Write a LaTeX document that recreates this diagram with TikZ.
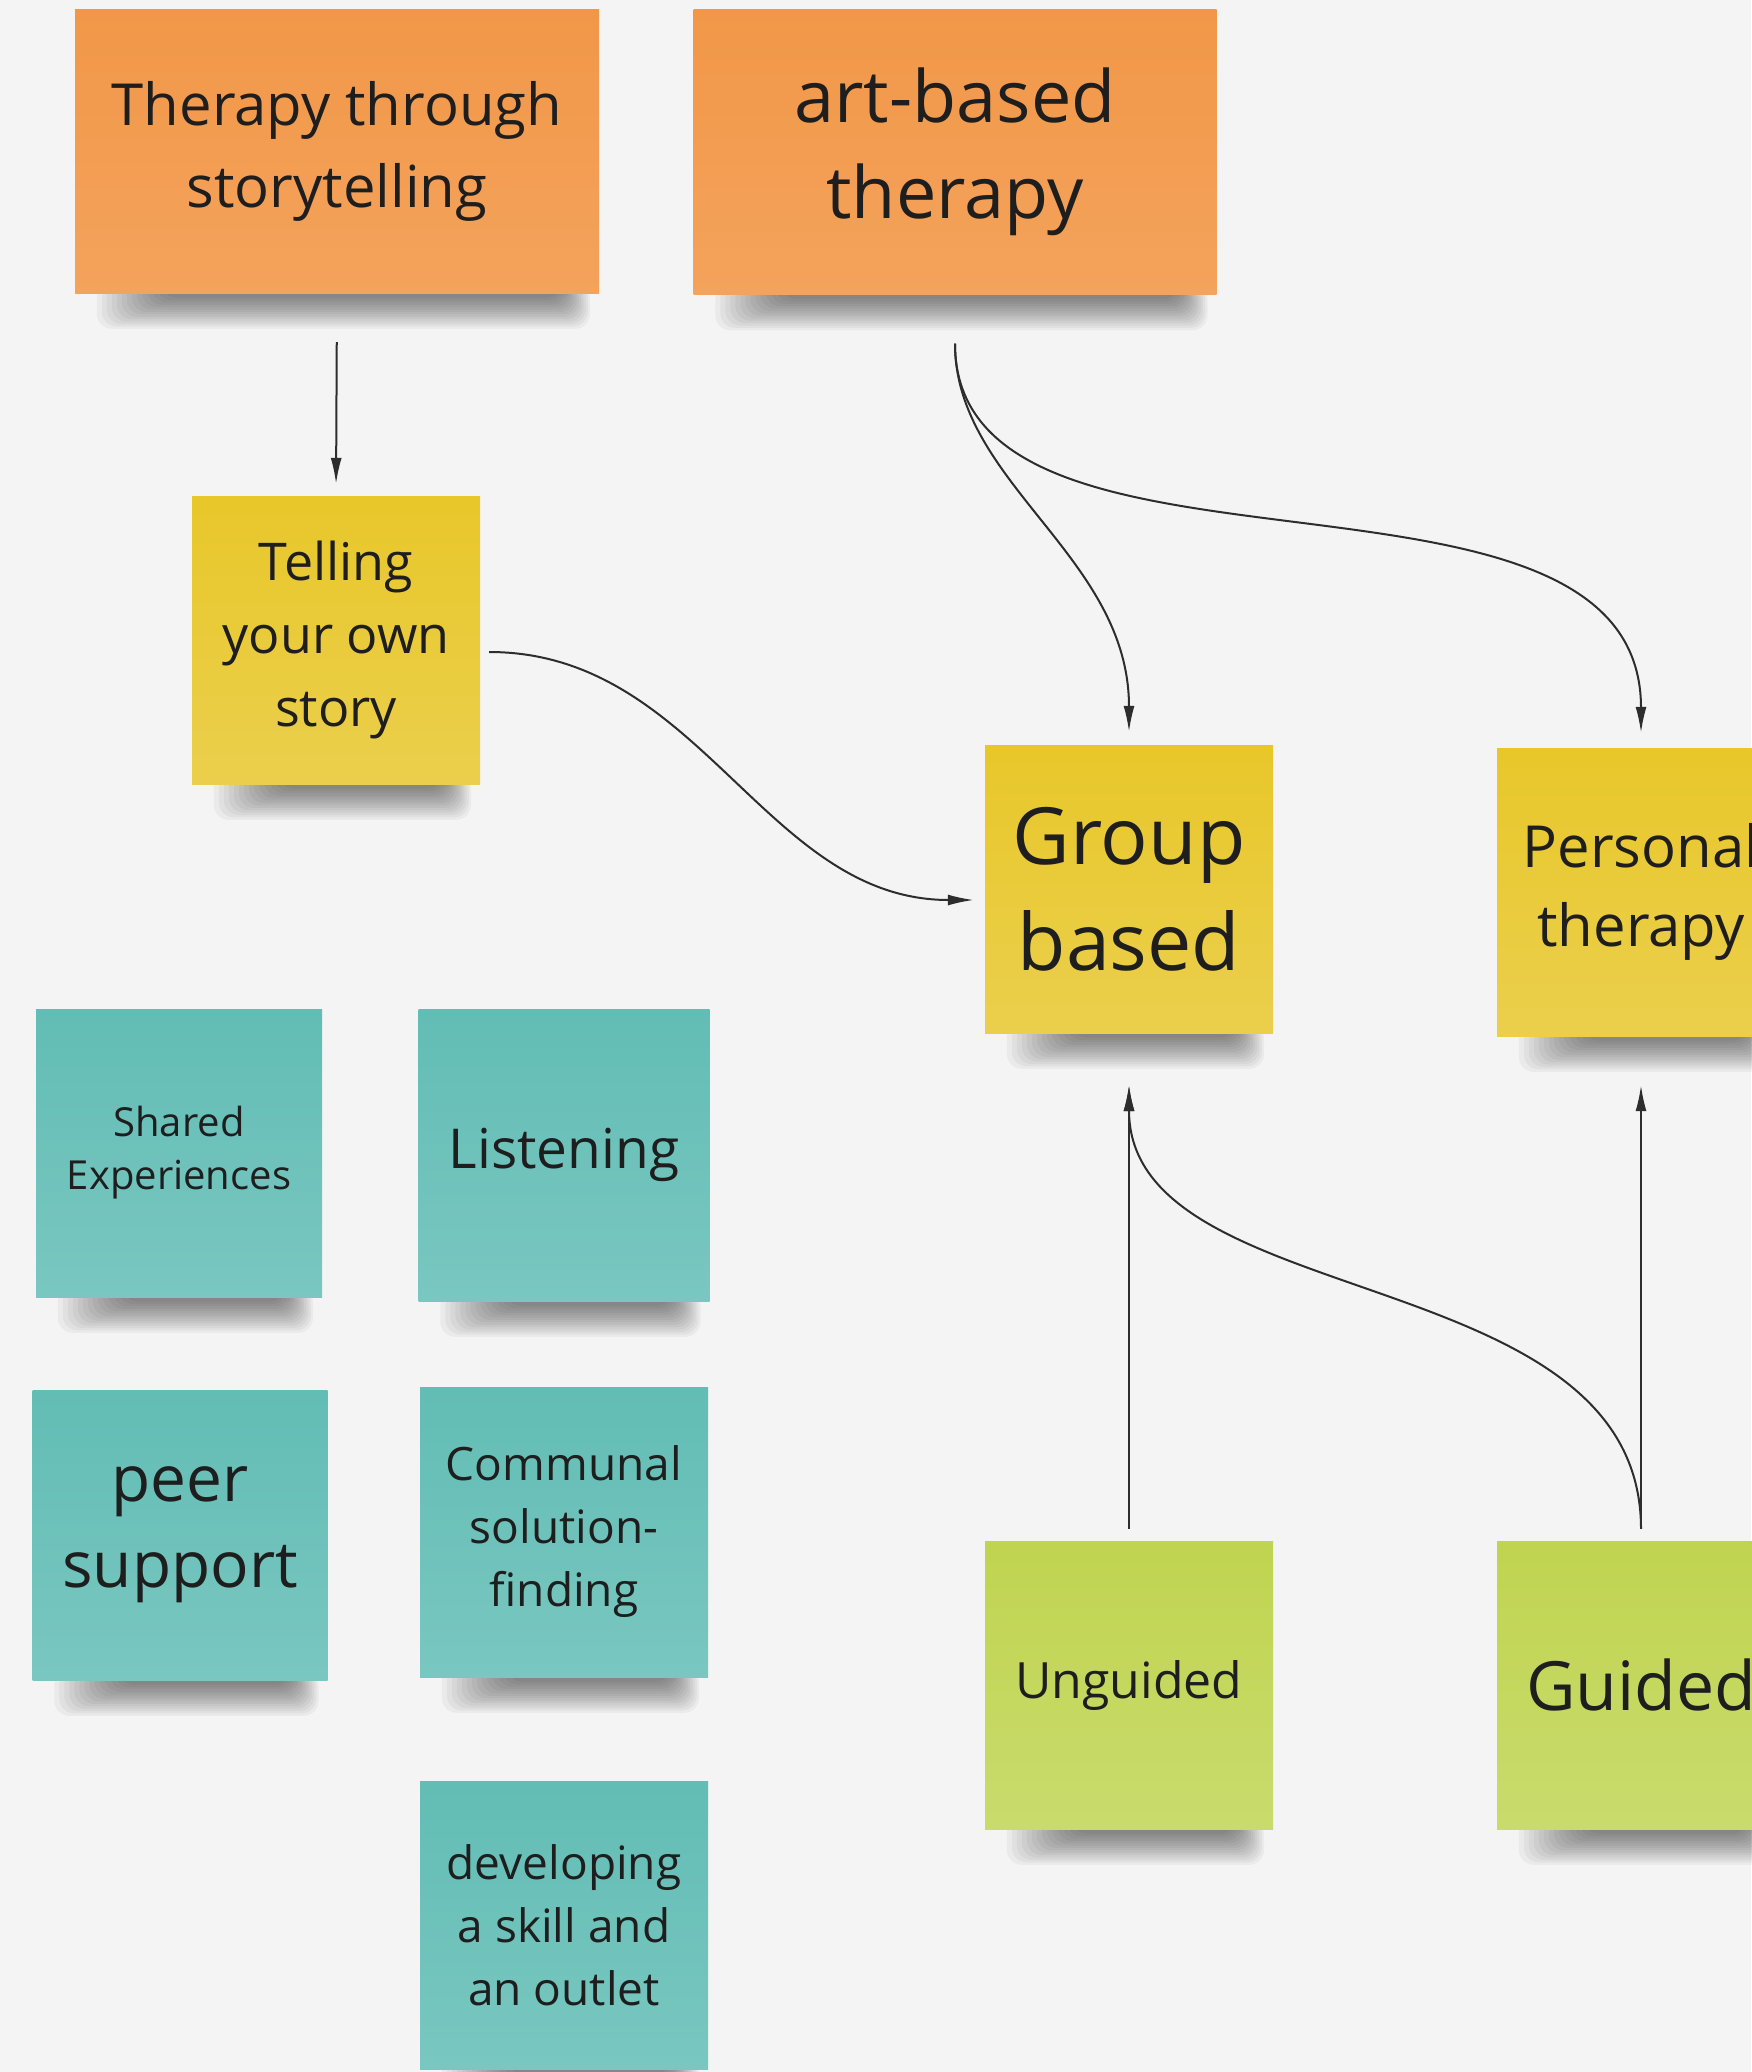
\documentclass[tikz,border=0pt]{standalone}
\usepackage{fontspec}
\setmainfont{Open Sans}
\usetikzlibrary{arrows.meta,backgrounds}

\definecolor{bgcol}{RGB}{244,244,244}
\definecolor{inkcol}{RGB}{30,30,30}
\definecolor{linkcol}{RGB}{45,45,45}
\definecolor{orangetop}{RGB}{241,151,72}
\definecolor{orangebot}{RGB}{244,163,92}
\definecolor{yellowtop}{RGB}{232,199,42}
\definecolor{yellowbot}{RGB}{235,207,76}
\definecolor{tealtop}{RGB}{98,189,181}
\definecolor{tealbot}{RGB}{121,199,192}
\definecolor{limetop}{RGB}{192,212,80}
\definecolor{limebot}{RGB}{201,219,108}

\tikzset{
  note/.style={rectangle, inner sep=0pt, minimum width=288pt,
    minimum height=288pt, align=center, text=inkcol},
  orangenote/.style={note, top color=orangetop, bottom color=orangebot},
  yellownote/.style={note, top color=yellowtop, bottom color=yellowbot},
  tealnote/.style={note, top color=tealtop, bottom color=tealbot},
  limenote/.style={note, top color=limetop, bottom color=limebot},
  link/.style={draw=linkcol, line width=2pt,
    -{Latex[length=26pt,width=11pt]}},
}

% soft shadow under a sticky note
\newcommand{\noteshadow}[1]{%
  \foreach \k in {1,...,14}{
    \fill[black, opacity=0.04, rounded corners=15pt]
      ([xshift={(92-5*\k)*1pt}, yshift=10pt]#1.south west) rectangle
      ([xshift={(-40+2.2*\k)*1pt}, yshift={(-2-2.4*\k)*1pt}]#1.south east);
  }%
}

\begin{document}
\begin{tikzpicture}[x=1pt, y=-1pt]
   \useasboundingbox (0,0) rectangle (1751,2072);
   %
   % orange notes
   \node[orangenote, minimum width=524pt, minimum height=284pt,
         font=\fontsize{58}{82}\selectfont] (story) at (337,151)
        {Therapy through\\storytelling};
   \node[orangenote, minimum width=523pt, minimum height=285pt,
         font=\fontsize{72}{96}\selectfont] (artbased) at (955,152)
        {art-based\\therapy};
   %
   % yellow notes
   \node[yellownote, font=\fontsize{52}{73}\selectfont] (telling) at (336,640)
        {Telling\\your own\\story};
   \node[yellownote, font=\fontsize{79}{106}\selectfont] (group) at (1129,889)
        {Group\\based};
   \node[yellownote, font=\fontsize{58}{79}\selectfont] (personal) at (1641,892)
        {Personal\\therapy};
   %
   % teal notes
   \node[tealnote, minimum width=286pt, font=\fontsize{40}{53}\selectfont]
        (shared) at (179,1153) {Shared\\Experiences};
   \node[tealnote, minimum width=291pt, minimum height=292pt,
         font=\fontsize{55}{75}\selectfont] (listening) at (564,1155)
        {Listening};
   \node[tealnote, minimum width=295pt, minimum height=290pt,
         font=\fontsize{64}{86}\selectfont] (peer) at (180,1535)
        {peer\\support};
   \node[tealnote, minimum height=290pt, font=\fontsize{46}{63}\selectfont]
        (communal) at (564,1532) {Communal\\solution-\\finding};
   \node[tealnote, font=\fontsize{46}{63}\selectfont] (developing) at (564,1925)
        {developing\\a skill and\\an outlet};
   %
   % lime notes
   \node[limenote, font=\fontsize{50}{68}\selectfont] (unguided) at (1129,1685)
        {Unguided};
   \node[limenote, font=\fontsize{68}{90}\selectfont] (guided) at (1641,1685)
        {Guided};
   %
   \begin{scope}[on background layer]
     \fill[bgcol] (0,0) rectangle (1751,2072);
     \foreach \n in {story,artbased,telling,group,personal,shared,
                     listening,peer,communal,developing,unguided,guided}{
       \noteshadow{\n}
     }
   \end{scope}
   %
   % connectors
   \draw[link, shorten <=49pt, shorten >=12pt] (story.south) -- (telling.north);
   \draw[link, shorten <=49pt, shorten >=13pt]
        (artbased.south) to[out=-90, in=90] (group.north);
   \draw[link, shorten <=49pt, shorten >=15pt]
        (artbased.south) to[out=-90, in=90] (personal.north);
   \draw[link, shorten <=9pt, shorten >=11pt]
        ([yshift=-12pt]telling.east) to[out=0, in=180] ([yshift=-11pt]group.west);
   %
   \draw[link, shorten <=12pt, shorten >=52pt] (unguided.north) -- (group.south);
   \draw[link, shorten <=12pt, shorten >=49pt] (guided.north) -- (personal.south);
   \draw[link, shorten <=12pt, shorten >=52pt]
        (guided.north) to[out=90, in=-90] (group.south);
   %
\end{tikzpicture}
\end{document}
